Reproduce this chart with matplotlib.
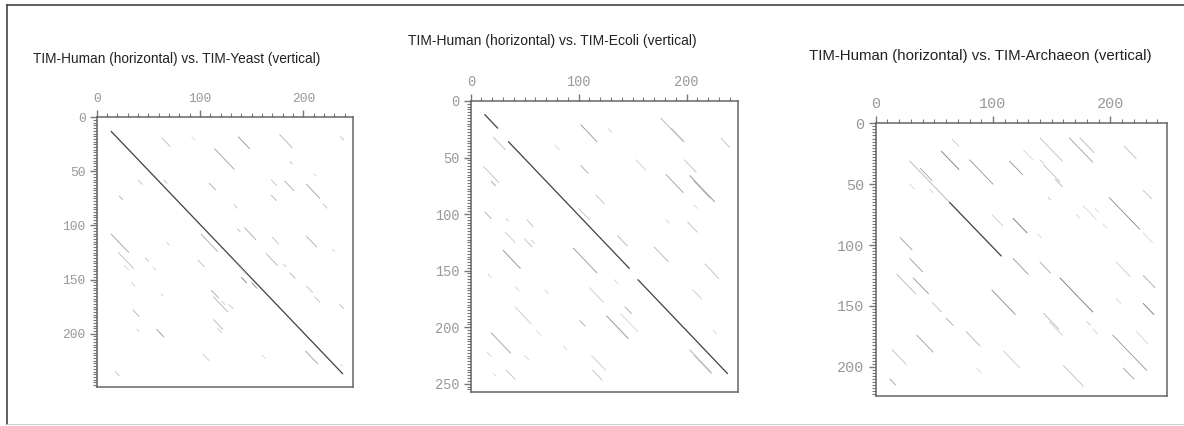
import matplotlib
matplotlib.use("Agg")
import matplotlib.pyplot as plt
from matplotlib.collections import LineCollection
from matplotlib.lines import Line2D
import numpy as np

# dot plot hits: (x start, y start, length, score)
yeast_hits = [
    (14, 13, 224, 0.80),
    (63, 19, 8, 0.30), (114, 29, 19, 0.45), (137, 18, 11, 0.50), (177, 16, 12, 0.35),
    (187, 41, 2, 0.30), (236, 18, 3, 0.30), (92, 18, 3, 0.20), (65, 58, 3, 0.30),
    (40, 58, 4, 0.30), (109, 61, 6, 0.40), (22, 73, 3, 0.40), (133, 81, 3, 0.30),
    (169, 58, 5, 0.30), (169, 72, 5, 0.35), (182, 59, 9, 0.40), (203, 62, 13, 0.45),
    (219, 80, 4, 0.30), (210, 52, 2, 0.25),
    (14, 108, 17, 0.45), (101, 108, 16, 0.40), (136, 103, 3, 0.30), (143, 102, 11, 0.40),
    (170, 111, 6, 0.30), (203, 110, 10, 0.40), (228, 122, 2, 0.25),
    (21, 125, 15, 0.30), (27, 137, 4, 0.20), (47, 130, 3, 0.30), (55, 139, 2, 0.25),
    (68, 116, 2, 0.25), (98, 132, 6, 0.30), (132, 132, 13, 0.35), (140, 148, 5, 0.60),
    (150, 153, 5, 0.55), (164, 126, 11, 0.35), (181, 136, 2, 0.30), (187, 144, 5, 0.35),
    (203, 156, 6, 0.30), (211, 166, 5, 0.30), (235, 173, 4, 0.30), (202, 216, 12, 0.45),
    (111, 160, 7, 0.40), (113, 166, 14, 0.35), (113, 187, 9, 0.35), (117, 195, 4, 0.25),
    (121, 170, 3, 0.25), (128, 173, 4, 0.25), (35, 178, 6, 0.35), (58, 196, 7, 0.50),
    (39, 196, 2, 0.25), (34, 153, 3, 0.25), (18, 235, 4, 0.30), (103, 219, 6, 0.25),
    (62, 163, 2, 0.20), (160, 220, 3, 0.20), (236, 228, 2, 0.20),
]

ecoli_hits = [
    (13, 12, 12, 0.70), (35, 36, 112, 0.80), (155, 158, 83, 0.80),
    (21, 32, 11, 0.30), (102, 21, 15, 0.50), (127, 24, 4, 0.20), (176, 15, 21, 0.35),
    (186, 24, 12, 0.30), (232, 33, 8, 0.30), (78, 39, 4, 0.20), (102, 57, 7, 0.40),
    (153, 52, 9, 0.25), (181, 65, 16, 0.45), (198, 52, 11, 0.30), (203, 66, 23, 0.55),
    (207, 71, 15, 0.35), (116, 83, 8, 0.30), (12, 58, 14, 0.30), (19, 71, 4, 0.45),
    (13, 98, 6, 0.40), (33, 104, 2, 0.25), (52, 105, 6, 0.30), (32, 116, 9, 0.25),
    (50, 122, 7, 0.30), (100, 95, 10, 0.30), (136, 119, 9, 0.35), (181, 105, 3, 0.20),
    (201, 107, 9, 0.30), (207, 92, 3, 0.20),
    (30, 132, 16, 0.55), (56, 123, 3, 0.25), (95, 130, 22, 0.50), (170, 129, 13, 0.35),
    (217, 144, 13, 0.30), (206, 167, 8, 0.25), (16, 153, 3, 0.20), (41, 164, 4, 0.20),
    (69, 167, 3, 0.20), (110, 165, 13, 0.25), (133, 158, 4, 0.20), (41, 182, 15, 0.25),
    (101, 194, 5, 0.40), (126, 190, 20, 0.55), (143, 182, 6, 0.40), (139, 188, 16, 0.20),
    (61, 203, 4, 0.20), (19, 205, 18, 0.45), (15, 222, 4, 0.20), (50, 225, 4, 0.20),
    (112, 225, 13, 0.25), (33, 238, 8, 0.30), (21, 241, 2, 0.20), (203, 220, 20, 0.40),
    (207, 225, 16, 0.30), (225, 203, 3, 0.20), (113, 238, 9, 0.30), (86, 217, 3, 0.20),
]

archaeon_hits = [
    (29, 31, 34, 0.35), (63, 65, 44, 0.75),
    (65, 13, 6, 0.25), (56, 23, 15, 0.65), (38, 37, 10, 0.45), (80, 30, 20, 0.50),
    (114, 31, 11, 0.50), (140, 30, 3, 0.25), (140, 12, 19, 0.30), (143, 34, 14, 0.30),
    (153, 46, 6, 0.35), (165, 12, 20, 0.45), (174, 12, 12, 0.35), (212, 19, 10, 0.30),
    (126, 22, 8, 0.20), (199, 61, 26, 0.55), (117, 78, 12, 0.65), (99, 75, 9, 0.25),
    (147, 61, 2, 0.30), (171, 75, 3, 0.20), (187, 70, 3, 0.20), (194, 83, 3, 0.20),
    (228, 55, 7, 0.30), (177, 68, 11, 0.20), (228, 90, 8, 0.20), (21, 94, 10, 0.45),
    (29, 50, 4, 0.20), (46, 54, 3, 0.20), (138, 91, 3, 0.20),
    (29, 111, 11, 0.45), (18, 124, 16, 0.35), (32, 127, 13, 0.50), (48, 147, 8, 0.30),
    (60, 160, 6, 0.40), (99, 137, 20, 0.55), (117, 111, 13, 0.50), (140, 114, 9, 0.40),
    (157, 127, 28, 0.65), (143, 156, 13, 0.35), (148, 163, 11, 0.25), (77, 171, 12, 0.35),
    (35, 174, 14, 0.45), (14, 186, 12, 0.30), (12, 210, 5, 0.45), (205, 114, 12, 0.25),
    (228, 125, 10, 0.40), (228, 148, 9, 0.65), (202, 174, 29, 0.50), (222, 171, 10, 0.20),
    (205, 144, 4, 0.20), (211, 201, 9, 0.45), (160, 199, 17, 0.30), (86, 201, 4, 0.20),
    (109, 187, 14, 0.25), (185, 169, 4, 0.20), (180, 163, 3, 0.25),
]

titles = [
    "TIM-Human (horizontal) vs. TIM-Yeast (vertical)",
    "TIM-Human (horizontal) vs. TIM-Ecoli (vertical)",
    "TIM-Human (horizontal) vs. TIM-Archaeon (vertical)",
]
human_len = 248
vertical_len = [249, 257, 224]
ylabels_at = [[0, 50, 100, 150, 200], [0, 50, 100, 150, 200, 250], [0, 50, 100, 150, 200]]

W, H = 1184, 426
fig = plt.figure(figsize=(W / 100, H / 100), dpi=100)

# pixel boxes: left, top, right, bottom
boxes = [(96.7, 117.3, 353.0, 386.7), (470.7, 101.0, 738.3, 391.7), (875.7, 123.3, 1166.7, 396.0)]
title_pos = [(177, 59), (552, 41), (980, 56)]
title_fs = [9.8, 10.0, 10.8]
tick_fs = [9.4, 9.8, 10.9]

for i, hits in enumerate([yeast_hits, ecoli_hits, archaeon_hits]):
    l, t, r, b = boxes[i]
    ax = fig.add_axes([l / W, 1 - b / H, (r - l) / W, (b - t) / H])
    hx = np.array([h[0] for h in hits], float)
    hy = np.array([h[1] for h in hits], float)
    hl = np.array([h[2] for h in hits], float)
    hs = np.array([h[3] for h in hits], float)
    segs = [[(x, y), (x + n, y + n)] for x, y, n in zip(hx, hy, hl)]
    cols = [(0.25,) * 3 if s >= 0.7 else (1 - 0.85 * s,) * 3 for s in hs]
    lws = [0.9 if s >= 0.7 else 0.6 for s in hs]
    ax.add_collection(LineCollection(segs, colors=cols, linewidths=lws, capstyle="round"))

    ax.set_xlim(0, human_len)
    ax.set_ylim(vertical_len[i], 0)
    ax.xaxis.tick_top()
    ax.set_xticks([0, 100, 200])
    ax.set_xticks(np.arange(0, human_len, 10), minor=True)
    ax.set_yticks(ylabels_at[i])
    ax.set_yticks(np.arange(0, vertical_len[i], 2.5), minor=True)
    ax.tick_params(which="major", length=5, width=1.0, color="#777777", labelsize=tick_fs[i],
                   labelcolor="#999999", direction="out")
    ax.tick_params(axis="x", which="major", pad=4)
    ax.tick_params(axis="y", which="major", pad=3)
    ax.tick_params(which="minor", length=3, width=0.8, color="#777777", direction="out")
    for lab in ax.get_xticklabels() + ax.get_yticklabels():
        lab.set_family("Liberation Mono")
    for sp in ax.spines.values():
        sp.set_color("#666666")
        sp.set_linewidth(1.1)

    tx, ty = title_pos[i]
    fig.text(tx / W, 1 - ty / H, titles[i], ha="center", va="center", fontsize=title_fs[i],
             family="Liberation Sans", color="#222222")

# outer frame
fig.add_artist(Line2D([7 / W, 1], [1 - 5 / H, 1 - 5 / H], color="#444444", lw=1.2))
fig.add_artist(Line2D([7 / W, 7 / W], [1 - 5 / H, 1 - 424 / H], color="#444444", lw=1.2))
fig.add_artist(Line2D([7 / W, 1], [1 - 424 / H, 1 - 424 / H], color="#d0d0d0", lw=0.8))

fig.savefig("out.png", dpi=100)
